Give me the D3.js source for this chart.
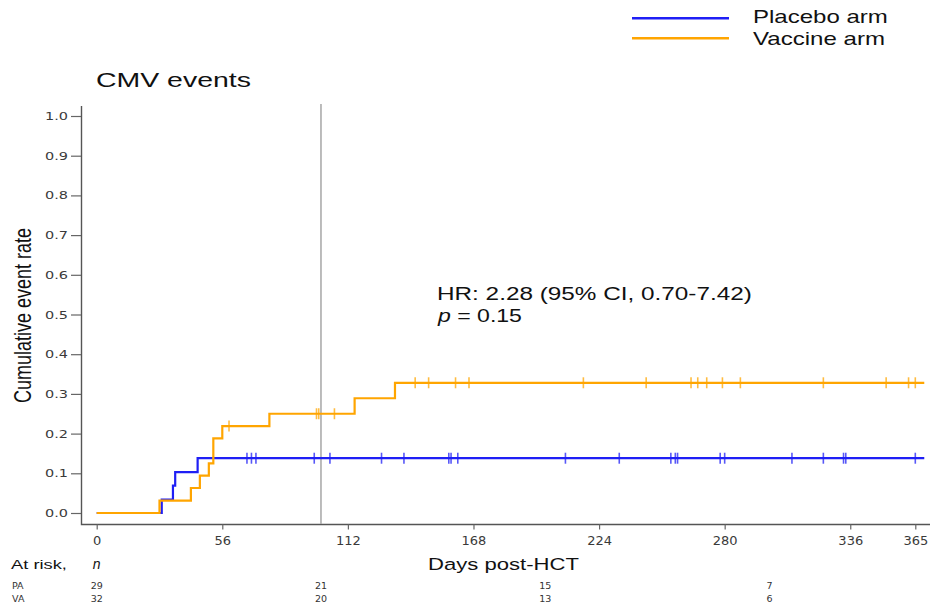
<!DOCTYPE html>
<html>
<head>
<meta charset="utf-8" />
<title>CMV events</title>
<script src="https://d3js.org/d3.v7.min.js"></script>
<style>
body { margin: 0; background: white; }
svg { display: block; background: white; }
text { font-family: "Liberation Sans", Arial, sans-serif; }
.tick text { font-family: "DejaVu Sans", sans-serif; fill: #3a3a3a; }
.tick line { stroke: #666; stroke-width: 1.2px; }
</style>
</head>
<body>
<div id="chart"></div>
<script>
// cumulative event rate, step curves (day, rate)
var placeboDays = [0, 29, 34, 35, 45];
var placeboRate = [0, 0.034, 0.069, 0.103, 0.138];
var vaccineDays = [0, 28, 42, 46, 50, 52, 56, 77, 115, 133];
var vaccineRate = [0, 0.031, 0.063, 0.094, 0.125, 0.188, 0.219, 0.25, 0.289, 0.328];
var lastDay = 369;

// censored patients (days)
var placeboCensor = [67, 69, 71, 97, 104, 127, 137, 157, 158, 161, 209, 233, 256, 258, 259, 278, 280, 310, 324, 333, 334, 365];
var vaccineCensor = [59, 98, 99, 106, 142, 148, 160, 166, 217, 245, 265, 268, 272, 279, 287, 324, 352, 362, 365];

// axes
var xTicks = [0, 56, 112, 168, 224, 280, 336, 365];
var yTicks = [0, 0.1, 0.2, 0.3, 0.4, 0.5, 0.6, 0.7, 0.8, 0.9, 1.0];
var markerDay = 100;

// numbers at risk
var riskDays = [0, 100, 200, 300];
var riskPA = [29, 21, 15, 7];
var riskVA = [32, 20, 13, 6];

var blue = "#1f1ff5", orange = "#ffa500";
var width = 934, height = 607;

var svg = d3.select("#chart").append("svg")
    .attr("width", width).attr("height", height);

var x = d3.scaleLinear().domain([0, 365]).range([96.7, 915.3]);
var y = d3.scaleLinear().domain([0, 1]).range([513, 116]);

/* stretched text helper: scales glyphs to the width seen in the picture */
function label(px, py, str, size, w, anchor) {
    var g = svg.append("g").attr("transform", "translate(" + px + "," + py + ")");
    var t = g.append("text").style("font-size", size + "px").style("fill", "#111")
        .attr("text-anchor", anchor || "start");
    if (typeof str === "string") t.text(str);
    else str.forEach(function(s) {
        t.append("tspan").text(s[0]).style("font-style", s[1] ? "italic" : "normal");
    });
    var nat = t.node().getComputedTextLength();
    g.attr("transform", "translate(" + px + "," + py + ") scale(" + (w / nat) + ",1)");
    return t;
}

// axis lines
svg.append("path")
    .attr("d", "M81.5,106V524.5H930")
    .attr("fill", "none").attr("stroke", "#555").attr("stroke-width", 1.4);

var yAxis = svg.append("g").attr("transform", "translate(81,0)")
    .call(d3.axisLeft(y).tickValues(yTicks).tickFormat(d3.format(".1f")).tickSize(10).tickPadding(3).tickSizeOuter(0));
yAxis.select(".domain").remove();
yAxis.selectAll("text").style("font-size", "11px")
    .attr("textLength", 23).attr("lengthAdjust", "spacingAndGlyphs");

var xAxis = svg.append("g").attr("transform", "translate(0,524.5)")
    .call(d3.axisBottom(x).tickValues(xTicks).tickFormat(d3.format("d")).tickSize(5).tickPadding(6).tickSizeOuter(0));
xAxis.select(".domain").remove();
xAxis.selectAll("text").style("font-size", "13px");

// day 100 marker
svg.append("line")
    .attr("x1", x(markerDay)).attr("x2", x(markerDay))
    .attr("y1", 104).attr("y2", 524)
    .attr("stroke", "#a6a6a6").attr("stroke-width", 1.5);

function steps(days, rates) {
    var pts = days.map(function(d, i) { return [d, rates[i]]; });
    pts.push([lastDay, rates[rates.length - 1]]);
    return pts;
}
function rateAt(days, rates, d) {
    return rates[d3.bisectRight(days, d) - 1];
}

var line = d3.line()
    .x(function(d) { return x(d[0]); })
    .y(function(d) { return y(d[1]); })
    .curve(d3.curveStepAfter);

var arms = [
    { days: placeboDays, rates: placeboRate, censor: placeboCensor, color: blue },
    { days: vaccineDays, rates: vaccineRate, censor: vaccineCensor, color: orange }
];

arms.forEach(function(a) {
    svg.append("path")
        .datum(steps(a.days, a.rates))
        .attr("d", line)
        .attr("fill", "none").attr("stroke", a.color).attr("stroke-width", 2.2);
    svg.append("g").selectAll("line")
        .data(a.censor)
        .enter().append("line")
        .attr("x1", function(d) { return x(d); })
        .attr("x2", function(d) { return x(d); })
        .attr("y1", function(d) { return y(rateAt(a.days, a.rates, d)) - 5.5; })
        .attr("y2", function(d) { return y(rateAt(a.days, a.rates, d)) + 5.5; })
        .attr("stroke", a.color).attr("stroke-width", 1.6).attr("stroke-opacity", 0.75);
});

// legend
var legend = [["Placebo arm", blue, 18.3, 23, 135], ["Vaccine arm", orange, 38.3, 44.5, 132]];
legend.forEach(function(l) {
    svg.append("line").attr("x1", 632).attr("x2", 729).attr("y1", l[2]).attr("y2", l[2])
        .attr("stroke", l[1]).attr("stroke-width", 2.5);
    label(753, l[3], l[0], 18, l[4]);
});

// titles and annotations
label(96, 87, "CMV events", 20, 155);
label(437, 300, "HR: 2.28 (95% CI, 0.70-7.42)", 18.5, 315);
label(438, 321.5, [["p", true], [" = 0.15", false]], 18.5, 84);
label(428, 570, "Days post-HCT", 17, 151);

var yl = svg.append("g").attr("transform", "translate(31,315.5) scale(1.35,1) rotate(-90)");
yl.append("text").attr("text-anchor", "middle").style("font-size", "18px").style("fill", "#111")
    .text("Cumulative event rate");

// at-risk table
label(11, 569, "At risk,", 13, 56);
svg.append("text").attr("x", x(0)).attr("y", 569).attr("text-anchor", "middle")
    .style("font-size", "14px").style("font-style", "italic").style("fill", "#111").text("n");

var rows = [["PA", riskPA, 588.5], ["VA", riskVA, 601.5]];
rows.forEach(function(r) {
    svg.append("text").attr("x", 12).attr("y", r[2])
        .style("font-family", "DejaVu Sans").style("font-size", "9.5px").style("fill", "#333").text(r[0]);
    svg.append("g").selectAll("text")
        .data(r[1])
        .enter().append("text")
        .attr("x", function(d, i) { return x(riskDays[i]); })
        .attr("y", r[2])
        .attr("text-anchor", "middle")
        .style("font-family", "DejaVu Sans").style("font-size", "9.5px").style("fill", "#333")
        .text(function(d) { return d; });
});
</script>
</body>
</html>
